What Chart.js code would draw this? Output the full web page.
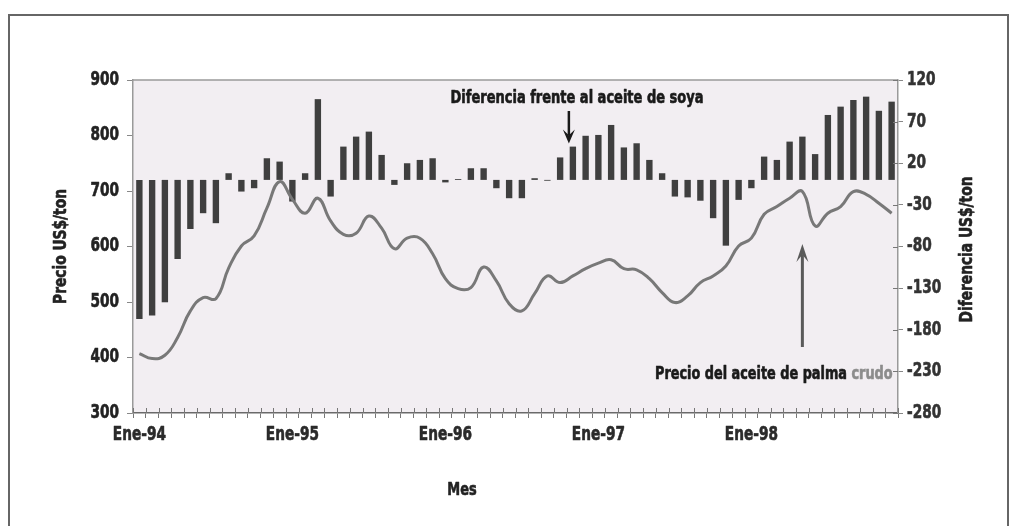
<!DOCTYPE html>
<html>
<head>
<meta charset="utf-8">
<title>Precio del aceite de palma crudo</title>
<script src="https://cdn.jsdelivr.net/npm/chart.js@4.4.1/dist/chart.umd.min.js"></script>
<style>
  html, body { margin: 0; padding: 0; background: #ffffff; }
  canvas { display: block; }
</style>
</head>
<body>
<canvas id="chart" width="1013" height="526"></canvas>
<script>
// Monthly categories, Ene-94 .. Dic-98
const monthNames = ['Ene', 'Feb', 'Mar', 'Abr', 'May', 'Jun', 'Jul', 'Ago', 'Sep', 'Oct', 'Nov', 'Dic'];
const years = ['94', '95', '96', '97', '98'];
const months = years.flatMap(y => monthNames.map(m => m + '-' + y));

// Crude palm oil price, US$/ton (left axis)
const palmPrice = [
  407, 398, 404, 436, 484, 508, 506, 561, 601, 619, 669, 717,
  685, 660, 687, 646, 622, 624, 655, 633, 596, 615, 615, 587,
  542, 524, 526, 563, 538, 497, 484, 515, 547, 535, 547, 560,
  570, 576, 560, 558, 542, 517, 499, 511, 535, 547, 565, 601,
  615, 658, 672, 687, 699, 637, 660, 672, 699, 694, 678, 660
];

// Difference against soybean oil, US$/ton (right axis)
const soyDiff = [
  -167, -163, -147, -95, -59, -40, -52, 8, -14, -10, 26, 22,
  -26, 8, 97, -20, 40, 52, 58, 30, -6, 20, 24, 26,
  -3, 1, 14, 14, -10, -22, -22, 2, -1, 27, 40, 53,
  54, 66, 39, 44, 24, 8, -20, -21, -25, -46, -79, -24,
  -10, 28, 24, 46, 52, 31, 78, 88, 96, 100, 83, 94
];

// Axis tick values
const leftTicks = [300, 400, 500, 600, 700, 800, 900];
const rightTicks = [-280, -230, -180, -130, -80, -30, 20, 70, 120];

const FONT = "'DejaVu Sans Condensed', 'Liberation Sans Narrow', sans-serif";
const NARROW = 0.8; // horizontal squeeze for the condensed lettering

// Draws heavy text squeezed horizontally, optionally rotated
function narrowText(ctx, text, x, y, opts) {
  const o = Object.assign({ align: 'center', sx: NARROW, rot: 0, font: 'bold 19px ' + FONT, color: '#222' }, opts || {});
  ctx.save();
  ctx.translate(x, y);
  if (o.rot) ctx.rotate(o.rot);
  ctx.scale(o.sx, 1);
  ctx.font = o.font;
  ctx.fillStyle = o.color;
  ctx.strokeStyle = o.color;
  ctx.lineWidth = 0.6;
  ctx.lineJoin = 'round';
  ctx.textAlign = o.align;
  ctx.textBaseline = 'middle';
  ctx.fillText(text, 0, 0);
  ctx.strokeText(text, 0, 0);
  const w = ctx.measureText(text).width * o.sx;
  ctx.restore();
  return w;
}

function drawArrow(ctx, x, yFrom, yTo, headLen, headHalf, color, width) {
  const dir = yTo > yFrom ? 1 : -1;
  ctx.save();
  ctx.strokeStyle = color;
  ctx.fillStyle = color;
  ctx.lineWidth = width;
  ctx.beginPath();
  ctx.moveTo(x, yFrom);
  ctx.lineTo(x, yTo - dir * headLen * 0.6);
  ctx.stroke();
  ctx.beginPath();
  ctx.moveTo(x, yTo);
  ctx.lineTo(x - headHalf, yTo - dir * headLen);
  ctx.lineTo(x, yTo - dir * headLen * 0.6);
  ctx.lineTo(x + headHalf, yTo - dir * headLen);
  ctx.closePath();
  ctx.fill();
  ctx.restore();
}

const decor = {
  id: 'decor',
  beforeDraw(chart) {
    const { ctx, chartArea: a, width, height } = chart;
    ctx.save();
    ctx.fillStyle = '#ffffff';
    ctx.fillRect(0, 0, width, height);
    // outer frame of the figure
    ctx.strokeStyle = '#666';
    ctx.lineWidth = 2;
    ctx.beginPath();
    ctx.moveTo(9, height);
    ctx.lineTo(9, 15);
    ctx.lineTo(1008, 15);
    ctx.lineTo(1008, height);
    ctx.stroke();
    // plot area background and top edge
    ctx.fillStyle = '#f2eef2';
    ctx.fillRect(a.left, a.top, a.right - a.left, a.bottom - a.top);
    ctx.strokeStyle = '#9a9a9a';
    ctx.lineWidth = 1.5;
    ctx.beginPath();
    ctx.moveTo(a.left, a.top);
    ctx.lineTo(a.right, a.top);
    ctx.stroke();
    ctx.restore();
  },
  afterDraw(chart) {
    const { ctx, chartArea: a } = chart;
    const xs = chart.scales.x, yL = chart.scales.yL, yR = chart.scales.yR;
    ctx.save();

    // inner halves of the crossing tick marks
    ctx.strokeStyle = '#777';
    ctx.lineWidth = 1;
    const half = (xs.getPixelForValue(1) - xs.getPixelForValue(0)) / 2;
    for (let i = 0; i <= months.length; i++) {
      const x = Math.round(xs.getPixelForValue(i) - half) + 0.5;
      ctx.beginPath();
      ctx.moveTo(x, a.bottom - 5);
      ctx.lineTo(x, a.bottom);
      ctx.stroke();
    }
    rightTicks.forEach(v => {
      const y = Math.round(yR.getPixelForValue(v)) + 0.5;
      ctx.beginPath();
      ctx.moveTo(a.right - 5, y);
      ctx.lineTo(a.right, y);
      ctx.stroke();
    });

    // tick labels
    leftTicks.forEach(v => narrowText(ctx, String(v), a.left - 14, yL.getPixelForValue(v), { align: 'right' }));
    rightTicks.forEach(v => narrowText(ctx, String(v), a.right + 9, yR.getPixelForValue(v), { align: 'left', color: '#333' }));
    months.forEach((m, i) => {
      if (i % 12 === 0) narrowText(ctx, m, xs.getPixelForValue(i), a.bottom + 22, { color: '#2a2a2a' });
    });

    // axis titles
    const midY = (a.top + a.bottom) / 2;
    narrowText(ctx, 'Precio US$/ton', 62, midY, { rot: -Math.PI / 2, font: 'bold 17px ' + FONT, sx: 0.9 });
    narrowText(ctx, 'Diferencia US$/ton', 968, midY + 3, { rot: -Math.PI / 2, font: 'bold 17px ' + FONT, sx: 0.9 });
    narrowText(ctx, 'Mes', 462, 490, { font: 'bold 18px ' + FONT });

    // annotation: soybean oil difference
    narrowText(ctx, 'Diferencia frente al aceite de soya', 577, 99, { font: 'bold 17px ' + FONT, sx: 0.85, color: '#1a1a1a' });
    const xSoy = xs.getPixelForValue(34) - 4;
    drawArrow(ctx, xSoy, 111, yR.getPixelForValue(soyDiff[34]) - 3, 14, 6, '#1a1a1a', 2.5);

    // annotation: crude palm oil price
    const w1 = narrowText(ctx, 'Precio del aceite de palma ', 655, 375, { align: 'left', font: 'bold 17px ' + FONT, sx: 0.84, color: '#1a1a1a' });
    narrowText(ctx, 'crudo', 655 + w1, 375, { align: 'left', font: 'bold 17px ' + FONT, sx: 0.84, color: '#8c8c8c' });
    const xPalm = xs.getPixelForValue(52);
    drawArrow(ctx, xPalm, 347, yL.getPixelForValue(palmPrice[53]) + 18, 18, 6, '#5a5a5a', 3);

    ctx.restore();
  }
};

new Chart(document.getElementById('chart'), {
  type: 'bar',
  data: {
    labels: months,
    datasets: [
      {
        type: 'line',
        label: 'Precio del aceite de palma crudo',
        data: palmPrice,
        yAxisID: 'yL',
        borderColor: '#787878',
        borderWidth: 3,
        pointRadius: 0,
        tension: 0.45,
        fill: false,
        order: 0
      },
      {
        type: 'bar',
        label: 'Diferencia frente al aceite de soya',
        data: soyDiff,
        yAxisID: 'yR',
        backgroundColor: '#3f3f3f',
        barPercentage: 0.5,
        categoryPercentage: 1,
        order: 1
      }
    ]
  },
  options: {
    responsive: false,
    animation: false,
    layout: { padding: { top: 80, left: 0, right: 0, bottom: 0 } },
    plugins: {
      legend: { display: false },
      tooltip: { enabled: false },
      title: { display: false }
    },
    scales: {
      x: {
        offset: true,
        grid: { display: true, drawOnChartArea: false, offset: true, tickLength: 5, color: '#777', lineWidth: 1 },
        border: { display: true, color: '#6a6a6a', width: 1.5 },
        ticks: { display: false, autoSkip: false },
        afterFit: s => { s.height = 113; }
      },
      yL: {
        position: 'left',
        min: 300,
        max: 900,
        afterBuildTicks: s => { s.ticks = leftTicks.map(v => ({ value: v })); },
        grid: { drawOnChartArea: false, tickLength: 6, color: '#888' },
        border: { display: true, color: '#9a9a9a', width: 1.5 },
        ticks: { display: false },
        afterFit: s => { s.width = 133; }
      },
      yR: {
        position: 'right',
        min: -280,
        max: 120,
        afterBuildTicks: s => { s.ticks = rightTicks.map(v => ({ value: v })); },
        grid: { drawOnChartArea: false, tickLength: 5, color: '#888' },
        border: { display: true, color: '#9a9a9a', width: 1.5 },
        ticks: { display: false },
        afterFit: s => { s.width = 115; }
      }
    }
  },
  plugins: [decor]
});
</script>
</body>
</html>
